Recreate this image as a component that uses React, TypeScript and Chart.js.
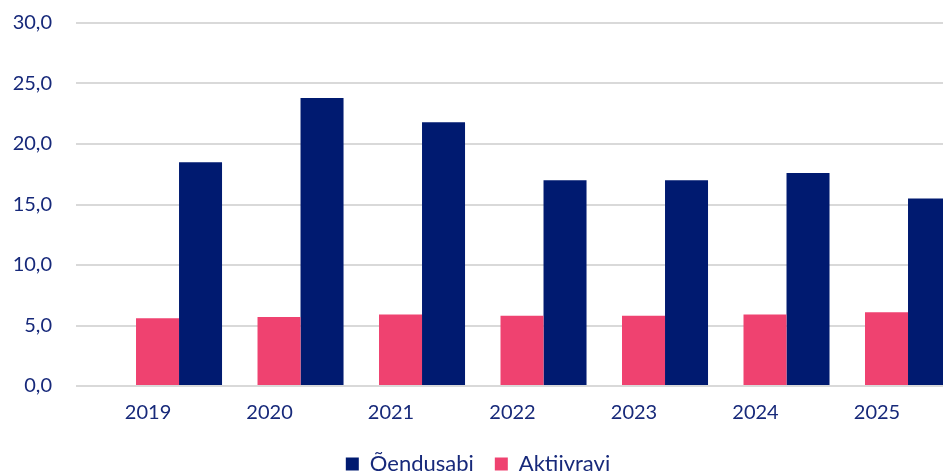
import React, { useEffect, useRef } from "react";
import { Chart, registerables } from "chart.js";

Chart.register(...registerables);

const years = ["2019", "2020", "2021", "2022", "2023", "2024", "2025"];
const aktiivravi = [5.6, 5.7, 5.9, 5.8, 5.8, 5.9, 6.1];
const oendusabi = [18.5, 23.8, 21.8, 17.0, 17.0, 17.6, 15.5];
const yTicks = [0, 5, 10, 15, 20, 25, 30];

const NAVY = "#001a70";
const PINK = "#ef4270";
const TEXT = "#17297a";
const FONT = "Lato, 'Open Sans', sans-serif";

export default function App() {
  const ref = useRef<HTMLCanvasElement | null>(null);

  useEffect(() => {
    if (!ref.current) return;
    const chart = new Chart(ref.current, {
      type: "bar",
      data: {
        datasets: [
          {
            label: "Aktiivravi",
            data: aktiivravi.map((y, i) => ({ x: i, y })),
            backgroundColor: PINK,
            borderWidth: 0,
          },
          {
            label: "Õendusabi",
            data: oendusabi.map((y, i) => ({ x: i, y })),
            backgroundColor: NAVY,
            borderWidth: 0,
          },
        ],
      },
      options: {
        responsive: false,
        animation: false,
        layout: { autoPadding: false, padding: { left: 13, right: 0, top: 23, bottom: -11 } },
        datasets: { bar: { categoryPercentage: 0.708, barPercentage: 1 } },
        scales: {
          x: {
            type: "linear",
            offset: false,
            min: -0.848,
            max: 6.288,
            grid: { display: false },
            border: { display: false },
            afterBuildTicks: (axis: any) => {
              axis.ticks = years.map((_, i) => ({ value: i }));
            },
            afterFit: (axis: any) => {
              axis.paddingLeft = 0;
              axis.paddingRight = 0;
            },
            ticks: {
              color: TEXT,
              font: { family: FONT, size: 20 },
              padding: 7,
              labelOffset: -31,
              maxRotation: 0,
              autoSkip: false,
              callback: (v: any) => years[Math.round(Number(v))] ?? "",
            },
          },
          y: {
            min: 0,
            max: 30,
            afterBuildTicks: (axis: any) => {
              axis.ticks = yTicks.map((v) => ({ value: v }));
            },
            afterFit: (axis: any) => {
              axis.paddingTop = 0;
              axis.paddingBottom = 0;
              axis.width = 63;
            },
            grid: { color: "#d9d9d9", lineWidth: 2, drawTicks: false },
            border: { display: false },
            ticks: {
              color: TEXT,
              font: { family: FONT, size: 20 },
              padding: 24,
              callback: (v: any) => Number(v).toFixed(1).replace(".", ","),
            },
          },
        },
        plugins: {
          legend: {
            position: "bottom",
            reverse: true,
            labels: {
              color: TEXT,
              font: { family: FONT, size: 22 },
              boxWidth: 13,
              boxHeight: 13,
              padding: 21,
            },
          },
          tooltip: { enabled: false },
        },
      },
    } as any);
    return () => chart.destroy();
  }, []);

  return (
    <div style={{ position: "absolute", left: 0, top: 0, width: 943, height: 474 }}>
      <canvas ref={ref} width={943} height={474} />
    </div>
  );
}
